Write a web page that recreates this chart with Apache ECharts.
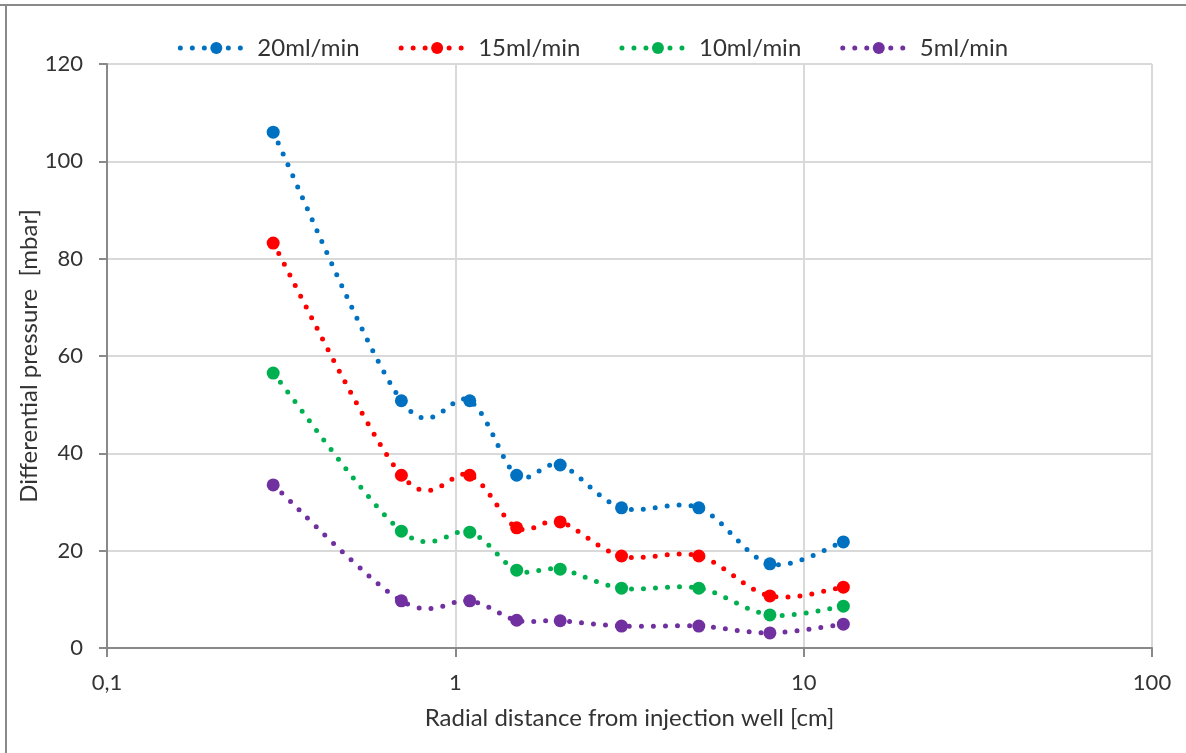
<!DOCTYPE html>
<html>
<head>
<meta charset="utf-8">
<script src="https://cdn.jsdelivr.net/npm/echarts@6/dist/echarts.min.js"></script>
<style>
  html, body { margin: 0; padding: 0; background: #fff; }
  #chart { width: 1186px; height: 753px; }
</style>
</head>
<body>
<div id="chart"></div>
<script>
// Radial distance from injection well [cm]
const distances = [0.3, 0.7, 1.1, 1.5, 2, 3, 5, 8, 13];

// Differential pressure [mbar] per flow rate
const rate20 = [106, 50.8, 50.8, 35.5, 37.6, 28.8, 28.8, 17.3, 21.8];
const rate15 = [83.2, 35.5, 35.5, 24.7, 25.9, 18.9, 18.9, 10.7, 12.5];
const rate10 = [56.5, 24.0, 23.8, 16.0, 16.2, 12.3, 12.3, 6.8, 8.6];
const rate5  = [33.5, 9.7, 9.7, 5.7, 5.6, 4.5, 4.5, 3.1, 4.9];

const seriesNames = ['20ml/min', '15ml/min', '10ml/min', '5ml/min'];
const seriesColors = ['#0070C0', '#FF0000', '#00B050', '#7030A0'];
const seriesValues = [rate20, rate15, rate10, rate5];

const FONT = 'Lato, "Open Sans", sans-serif';
const TEXT = '#333333';
const AXIS = '#898989';
const GRID = '#d9d9d9';
const DOTS = [0, 12];

// Smooth curve through the projected points (Catmull-Rom as cubic Beziers),
// drawn once per series from the first data item.
function makeCurveRenderer(color) {
  return function (params, api) {
    if (params.dataIndexInside !== 0) return null;
    const n = params.dataInsideLength;
    const p = [];
    for (let k = 0; k < n; k++) {
      p.push(api.coord([api.value(0, k), api.value(1, k)]));
    }
    let d = 'M' + p[0][0] + ' ' + p[0][1];
    for (let k = 0; k < n - 1; k++) {
      const p0 = p[Math.max(k - 1, 0)];
      const p1 = p[k];
      const p2 = p[k + 1];
      const p3 = p[Math.min(k + 2, n - 1)];
      const c1x = p1[0] + (p2[0] - p0[0]) / 6;
      const c1y = p1[1] + (p2[1] - p0[1]) / 6;
      const c2x = p2[0] - (p3[0] - p1[0]) / 6;
      const c2y = p2[1] - (p3[1] - p1[1]) / 6;
      d += ' C' + c1x + ' ' + c1y + ' ' + c2x + ' ' + c2y + ' ' + p2[0] + ' ' + p2[1];
    }
    return {
      type: 'path',
      shape: { pathData: d },
      style: { fill: 'none', stroke: color, lineWidth: 5, lineDash: DOTS, lineCap: 'round' }
    };
  };
}

const markerSeries = seriesNames.map((name, i) => ({
  name,
  type: 'line',
  data: distances.map((x, j) => [x, seriesValues[i][j]]),
  symbol: 'circle',
  symbolSize: 13,
  itemStyle: { color: seriesColors[i] },
  lineStyle: { color: seriesColors[i], width: 5, opacity: 0 },
  z: 20 - i
}));

const curveSeries = seriesNames.map((name, i) => ({
  name,
  type: 'custom',
  data: distances.map((x, j) => [x, seriesValues[i][j]]),
  encode: { x: 0, y: 1 },
  renderItem: makeCurveRenderer(seriesColors[i]),
  z: 10 - i,
  silent: true
}));

const chart = echarts.init(document.getElementById('chart'), null, { renderer: 'canvas' });

chart.setOption({
  backgroundColor: '#fff',
  animation: false,
  graphic: [
    { type: 'line', shape: { x1: 0, y1: 5, x2: 1186, y2: 5 }, style: { stroke: AXIS, lineWidth: 2 } },
    { type: 'line', shape: { x1: 6, y1: 5, x2: 6, y2: 753 }, style: { stroke: AXIS, lineWidth: 2 } }
  ],
  legend: {
    top: 31,
    left: 'center',
    itemWidth: 72,
    itemHeight: 15,
    itemGap: 39,
    lineStyle: { width: 5, type: DOTS, cap: 'round', opacity: 1 },
    textStyle: { fontFamily: FONT, fontSize: 24, color: TEXT },
    data: seriesNames
  },
  grid: { left: 107, right: 34, top: 64, bottom: 105, containLabel: false },
  xAxis: {
    type: 'log',
    logBase: 10,
    min: 0.1,
    max: 100,
    name: 'Radial distance from injection well [cm]',
    nameLocation: 'middle',
    nameGap: 58,
    nameTextStyle: { fontFamily: FONT, fontSize: 24, color: TEXT },
    axisLine: { show: true, onZero: false, lineStyle: { color: AXIS, width: 2 } },
    axisTick: { show: true, inside: false, length: 9, lineStyle: { color: AXIS, width: 2 } },
    minorTick: { show: false },
    splitLine: { show: true, lineStyle: { color: GRID, width: 2 } },
    axisLabel: {
      fontFamily: FONT, fontSize: 22, color: TEXT, margin: 24,
      formatter: v => String(Number(Number(v).toPrecision(6))).replace('.', ',')
    }
  },
  yAxis: {
    type: 'value',
    min: 0,
    max: 120,
    interval: 20,
    name: 'Differential pressure  [mbar]',
    nameLocation: 'middle',
    nameGap: 66,
    nameMoveOverlap: false,
    nameTextStyle: { fontFamily: FONT, fontSize: 24, color: TEXT },
    axisLine: { show: true, lineStyle: { color: AXIS, width: 2 } },
    axisTick: { show: true, inside: false, length: 8, lineStyle: { color: AXIS, width: 2 } },
    splitLine: { show: true, lineStyle: { color: GRID, width: 2 } },
    axisLabel: { fontFamily: FONT, fontSize: 22, color: TEXT, margin: 24 }
  },
  series: markerSeries.concat(curveSeries)
});
</script>
</body>
</html>
